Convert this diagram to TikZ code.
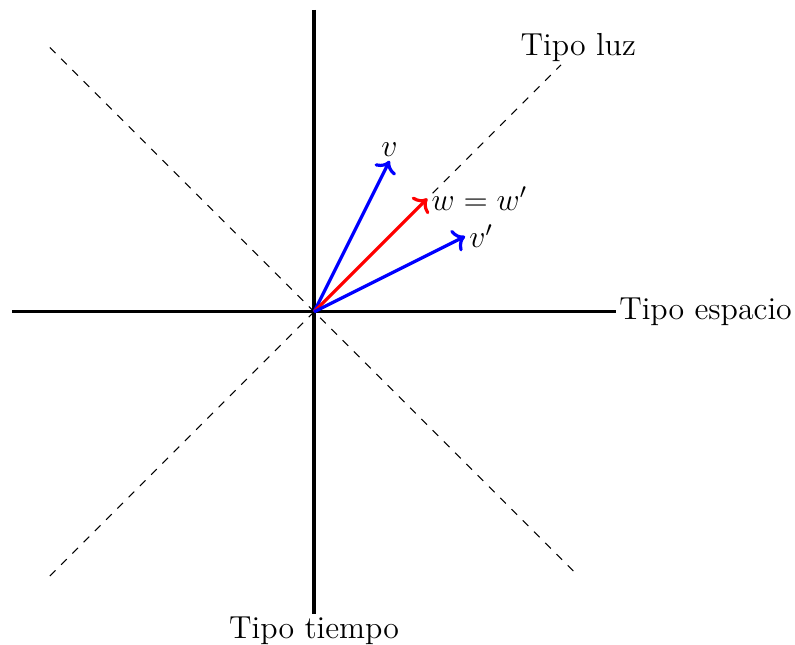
\documentclass[tikz,border=0pt]{standalone}
\usepackage{amsmath,amssymb}
\usepackage{xcolor}
\usepackage{tikz}
\usetikzlibrary{arrows.meta,positioning,calc}

\begin{document}
\begin{tikzpicture}[font=\large,
  axis/.style={very thick},
  cone/.style={dashed,thin},
  vec/.style={very thick,->},
  lab/.style={text=black,inner sep=1pt}]
\useasboundingbox (-4.16,-4.40) rectangle (6.37,4.13);
\coordinate (O) at (0,0);
\coordinate (xl) at (-4,0);
\coordinate (yt) at (0,4);
\coordinate (ul) at (-3.5,3.5);
\coordinate (ll) at (-3.5,-3.5);
\coordinate (lr) at (3.5,-3.5);
\node[lab,right] (esp) at (4,0) {Tipo espacio};
\node[lab,below] (tie) at (0,-4) {Tipo tiempo};
\node[lab] (luz) at (3.5,3.5) {Tipo luz};
% cono de luz
\draw[cone] (ul) -- (lr);
\draw[cone] (ll) -- (luz);
% ejes
\draw[axis] (xl) -- (esp);
\draw[axis] (yt) -- (tie);
% vectores
\draw[vec,blue] (O) -- (1,2) node[lab,above] (v) {$v$};
\draw[vec,red] (O) -- (1.5,1.5) node[lab,right] (w) {$w=w'$};
\draw[vec,blue] (O) -- (2,1) node[lab,right] (vp) {$v'$};
\end{tikzpicture}
\end{document}
